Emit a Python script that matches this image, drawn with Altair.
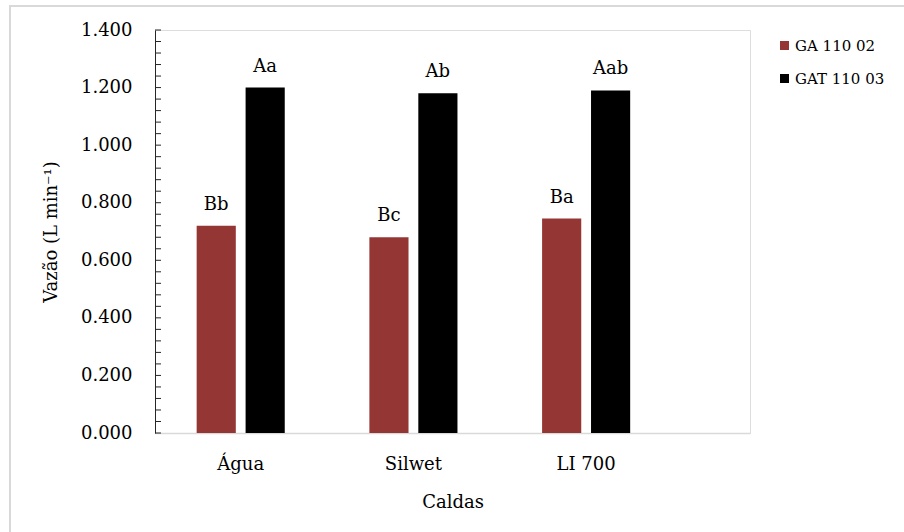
import altair as alt
import numpy as np
import pandas as pd

# Flow rate (L/min) for each spray solution and nozzle
caldas = ["Água", "Silwet", "LI 700"]
series = ["GA 110 02", "GAT 110 03"]
ga_values = [0.720, 0.680, 0.745]
gat_values = [1.200, 1.180, 1.190]
ga_letters = ["Bb", "Bc", "Ba"]
gat_letters = ["Aa", "Ab", "Aab"]
y_major = [0.0, 0.2, 0.4, 0.6, 0.8, 1.0, 1.2, 1.4]

colors = ["#943634", "#000000"]
FONT = "DejaVu Serif"

rows = []
for c, v, l in zip(caldas, ga_values, ga_letters):
    rows.append({"calda": c, "serie": series[0], "vazao": v, "letra": l})
for c, v, l in zip(caldas, gat_values, gat_letters):
    rows.append({"calda": c, "serie": series[1], "vazao": v, "letra": l})
df = pd.DataFrame(rows)

# minor tick positions along the y axis (every 0.04)
tick_df = pd.DataFrame({"t": np.round(np.arange(0, 1.4001, 0.04), 2)})

x_enc = alt.X(
    "calda:N",
    sort=caldas,
    title="Caldas",
    scale=alt.Scale(paddingInner=0.49, paddingOuter=0.4675, align=0.258),
    axis=alt.Axis(
        labelAngle=0, ticks=False, domainColor="#d9d9d9", domainWidth=1.5,
        labelFont=FONT, titleFont=FONT,
        labelFontSize=18, labelPadding=22, titleFontSize=18, titlePadding=20,
        labelColor="#000", titleColor="#000", titleFontWeight="normal",
    ),
)
xoff = alt.XOffset("serie:N", sort=series, scale=alt.Scale(paddingInner=0.2, paddingOuter=0))
y_scale = alt.Scale(domain=[0, 1.4], nice=False)

bars = alt.Chart(df).mark_bar().encode(
    x=x_enc,
    xOffset=xoff,
    y=alt.Y(
        "vazao:Q",
        scale=y_scale,
        title="Vazão (L min⁻¹)",
        axis=alt.Axis(
            values=y_major, format=".3f", ticks=False, grid=False,
            domainColor="#262626", domainWidth=1,
            labelFont=FONT, titleFont=FONT,
            labelFontSize=18, labelPadding=23, labelColor="#000",
            titleFontSize=18, titlePadding=20, titleColor="#000", titleFontWeight="normal",
        ),
    ),
    color=alt.Color(
        "serie:N",
        scale=alt.Scale(domain=series, range=colors),
        legend=alt.Legend(
            title=None, orient="none", legendX=622, legendY=8,
            symbolType="square", symbolSize=81, symbolStrokeWidth=0,
            labelFont=FONT, labelFontSize=15, labelColor="#000",
            rowPadding=17, labelOffset=3,
        ),
    ),
)

letters = alt.Chart(df).mark_text(
    baseline="alphabetic", dy=-16, fontSize=18, font=FONT, color="#000"
).encode(
    x=alt.X("calda:N", sort=caldas),
    xOffset=xoff,
    y=alt.Y("vazao:Q", scale=y_scale),
    text="letra:N",
)

# inward-facing ticks on the y axis
ticks = alt.Chart(tick_df).mark_rule(color="#262626", strokeWidth=1).encode(
    y=alt.Y("t:Q", scale=y_scale),
    x=alt.value(0),
    x2=alt.value(6),
)

# light frame around the figure
one = pd.DataFrame({"a": [0]})
frame_left = alt.Chart(one).mark_rule(color="#d9d9d9", strokeWidth=2).encode(
    x=alt.value(-145), y=alt.value(-24), y2=alt.value(510)
)
frame_top = alt.Chart(one).mark_rule(color="#d9d9d9", strokeWidth=2).encode(
    x=alt.value(-146), x2=alt.value(760), y=alt.value(-24)
)

chart = (
    alt.layer(bars, letters, ticks, frame_left, frame_top)
    .properties(
        width=595,
        height=403,
        padding={"left": 155, "top": 30, "right": 154, "bottom": 99},
        autosize="none",
        background="white",
    )
    .configure_view(stroke=None)
    .configure(font=FONT)
)

chart.save("out.html", embed_options={"renderer": "svg", "actions": False})
